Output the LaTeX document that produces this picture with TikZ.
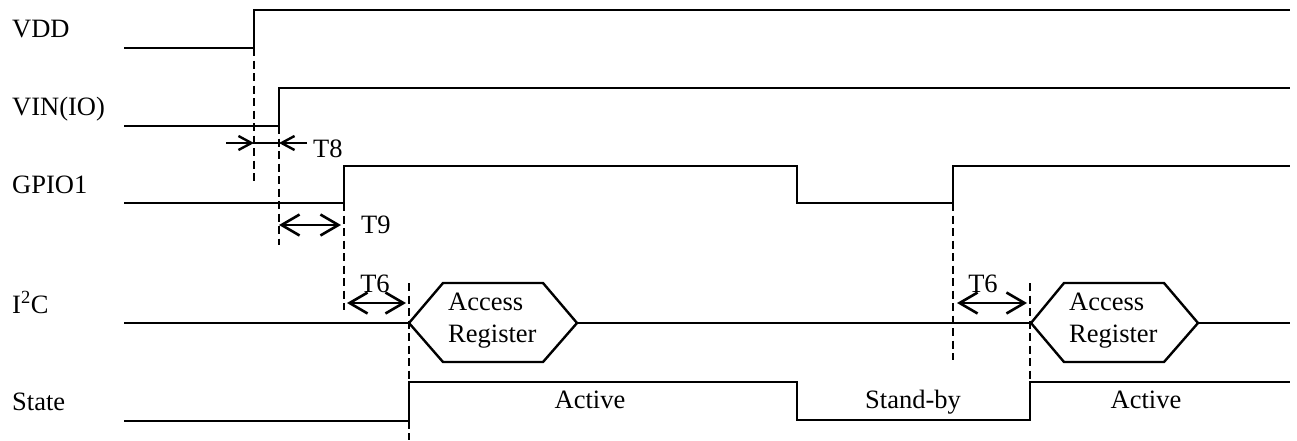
\documentclass[tikz,border=0pt]{standalone}
\usepackage{fontspec}
\setmainfont{Liberation Serif}
\usetikzlibrary{arrows.meta}
\begin{document}
\begin{tikzpicture}[x=1pt,y=-1pt,
  sig/.style={line width=2.4pt, line join=miter},
  guide/.style={line width=1.5pt, dash pattern=on 8pt off 4.5pt},
  dim/.style={line width=2.6pt, {Straight Barb[length=18pt,width=21pt]}-{Straight Barb[length=18pt,width=21pt]}},
  small/.style={line width=2.4pt, -{Straight Barb[length=13pt,width=14pt]}},
  lbl/.style={anchor=base west, inner sep=0pt, font=\fontsize{26.5}{31}\selectfont},
  txt/.style={anchor=base, inner sep=0pt, font=\fontsize{26.5}{31}\selectfont}]
\useasboundingbox (0,0) rectangle (1297,440);

% signal labels
\node[lbl] (lvdd) at (12,37) {VDD};
\node[lbl] (lvin) at (12,115) {VIN(IO)};
\node[lbl] (lgpio) at (12,193) {GPIO1};
\node[lbl] (li2c) at (12,313) {I\textsuperscript{2}C};
\node[lbl] (lstate) at (12,410) {State};

% key points
\coordinate (vddL) at (254,48);  \coordinate (vddH) at (254,10);
\coordinate (vinL) at (279,126); \coordinate (vinH) at (279,88);
\coordinate (g1L) at (344,203);  \coordinate (g1H) at (344,166);
\coordinate (g2H) at (797,166);  \coordinate (g2L) at (797,203);
\coordinate (g3L) at (953,203);  \coordinate (g3H) at (953,166);
\coordinate (h1) at (409,323);   \coordinate (h1r) at (577,323);
\coordinate (h2) at (1031,323);  \coordinate (h2r) at (1198,323);
\coordinate (s1L) at (409,421);  \coordinate (s1H) at (409,382);
\coordinate (s2H) at (797,382);  \coordinate (s2L) at (797,420);
\coordinate (s3L) at (1030,420); \coordinate (s3H) at (1030,382);

% waveforms
\draw[sig] (124,48) -- (vddL) -- (vddH) -- (1290,10);
\draw[sig] (124,126) -- (vinL) -- (vinH) -- (1290,88);
\draw[sig] (124,203) -- (g1L) -- (g1H) -- (g2H) -- (g2L) -- (g3L) -- (g3H) -- (1290,166);
\draw[sig] (124,323) -- (h1);
\draw[sig] (h1) -- (443,283) -- (543,283) -- (h1r) -- (543,362) -- (443,362) -- cycle;
\draw[sig] (h1r) -- (h2);
\draw[sig] (h2) -- (1064,283) -- (1164,283) -- (h2r) -- (1164,362) -- (1064,362) -- cycle;
\draw[sig] (h2r) -- (1290,323);
\draw[sig] (124,421) -- (s1L) -- (s1H) -- (s2H) -- (s2L) -- (s3L) -- (s3H) -- (1290,382);

% dashed guides
\coordinate (d1b) at (254,183);
\coordinate (d2b) at (279,245);
\coordinate (d3b) at (344,310);
\coordinate (d4t) at (409,283); \coordinate (d4b) at (409,440);
\coordinate (d5b) at (953,360);
\coordinate (d6t) at (1030,283);
\draw[guide] (vddL) -- (d1b);
\draw[guide] (vinL) -- (d2b);
\draw[guide] (g1L) -- (d3b);
\draw[guide] (d4t) -- (d4b);
\draw[guide] (g3L) -- (d5b);
\draw[guide] (d6t) -- (s3H);

% T8
\coordinate (t8a) at (226,143); \coordinate (t8b) at (254,143);
\coordinate (t8c) at (279,143); \coordinate (t8d) at (307,143);
\draw[small] (t8a) -- (t8b);
\draw[line width=1.4pt] (t8b) -- (t8c);
\draw[small] (t8d) -- (t8c);
\node[lbl] (t8) at (313,157) {T8};

% T9
\coordinate (t9a) at (279,225); \coordinate (t9b) at (341,225);
\draw[dim] (t9a) -- (t9b);
\node[lbl] (t9) at (361,233) {T9};

% T6 (first)
\coordinate (t6a) at (347,303); \coordinate (t6b) at (406,303);
\draw[dim] (t6a) -- (t6b);
\node[txt] (t6) at (375,292) {T6};

% T6 (second)
\coordinate (t6c) at (957,303); \coordinate (t6d) at (1027,303);
\draw[dim] (t6c) -- (t6d);
\node[txt] (t6s) at (983,292) {T6};

% hexagon texts
\node[lbl] (acc1) at (448,310) {Access};
\node[lbl] (reg1) at (448,342) {Register};
\node[lbl] (acc2) at (1069,310) {Access};
\node[lbl] (reg2) at (1069,342) {Register};

% state texts
\node[txt] (act1) at (590,408) {Active};
\node[txt] (stby) at (913,408) {Stand-by};
\node[txt] (act2) at (1146,408) {Active};
\end{tikzpicture}
\end{document}
